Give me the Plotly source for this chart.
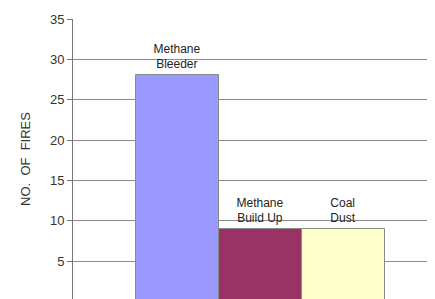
import plotly.graph_objects as go

categories = ["Methane Bleeder", "Methane Build Up", "Coal Dust"]
labels = ["Methane<br>Bleeder", "Methane<br>Build Up", "Coal<br>Dust"]
fires = [28, 9, 9]
colors = ["#9999FF", "#993366", "#FFFFCC"]
y_ticks = [0, 5, 10, 15, 20, 25, 30, 35]

fig = go.Figure(go.Bar(
    x=categories, y=fires, width=1,
    marker=dict(color=colors, line=dict(color="#8a8a8a", width=1)),
    text=labels, textposition="outside", cliponaxis=False,
    textfont=dict(family="Liberation Sans, Arial", size=12, color="#222"),
))

fig.update_layout(
    width=435, height=299,
    margin=dict(l=65, r=0, t=11, b=8, autoexpand=False),
    paper_bgcolor="white", plot_bgcolor="white",
    showlegend=False, bargap=0,
    font=dict(family="Liberation Sans, Arial", size=12, color="#333"),
)
fig.update_xaxes(range=[-1.26, 3.198], showticklabels=False, showgrid=False,
                 zeroline=False, showline=False, automargin=False)
fig.update_yaxes(range=[0.3, 35], tickvals=y_ticks, showgrid=True,
                 gridcolor="#8c8c8c", gridwidth=1, zeroline=False,
                 showline=True, linecolor="#777", linewidth=1,
                 ticks="outside", ticklen=5, tickcolor="#777", automargin=False,
                 tickfont=dict(size=13, color="#333"),
                 title=dict(text="NO.  OF  FIRES", font=dict(size=13, color="#333"), standoff=16))

fig.write_html("out.html")
